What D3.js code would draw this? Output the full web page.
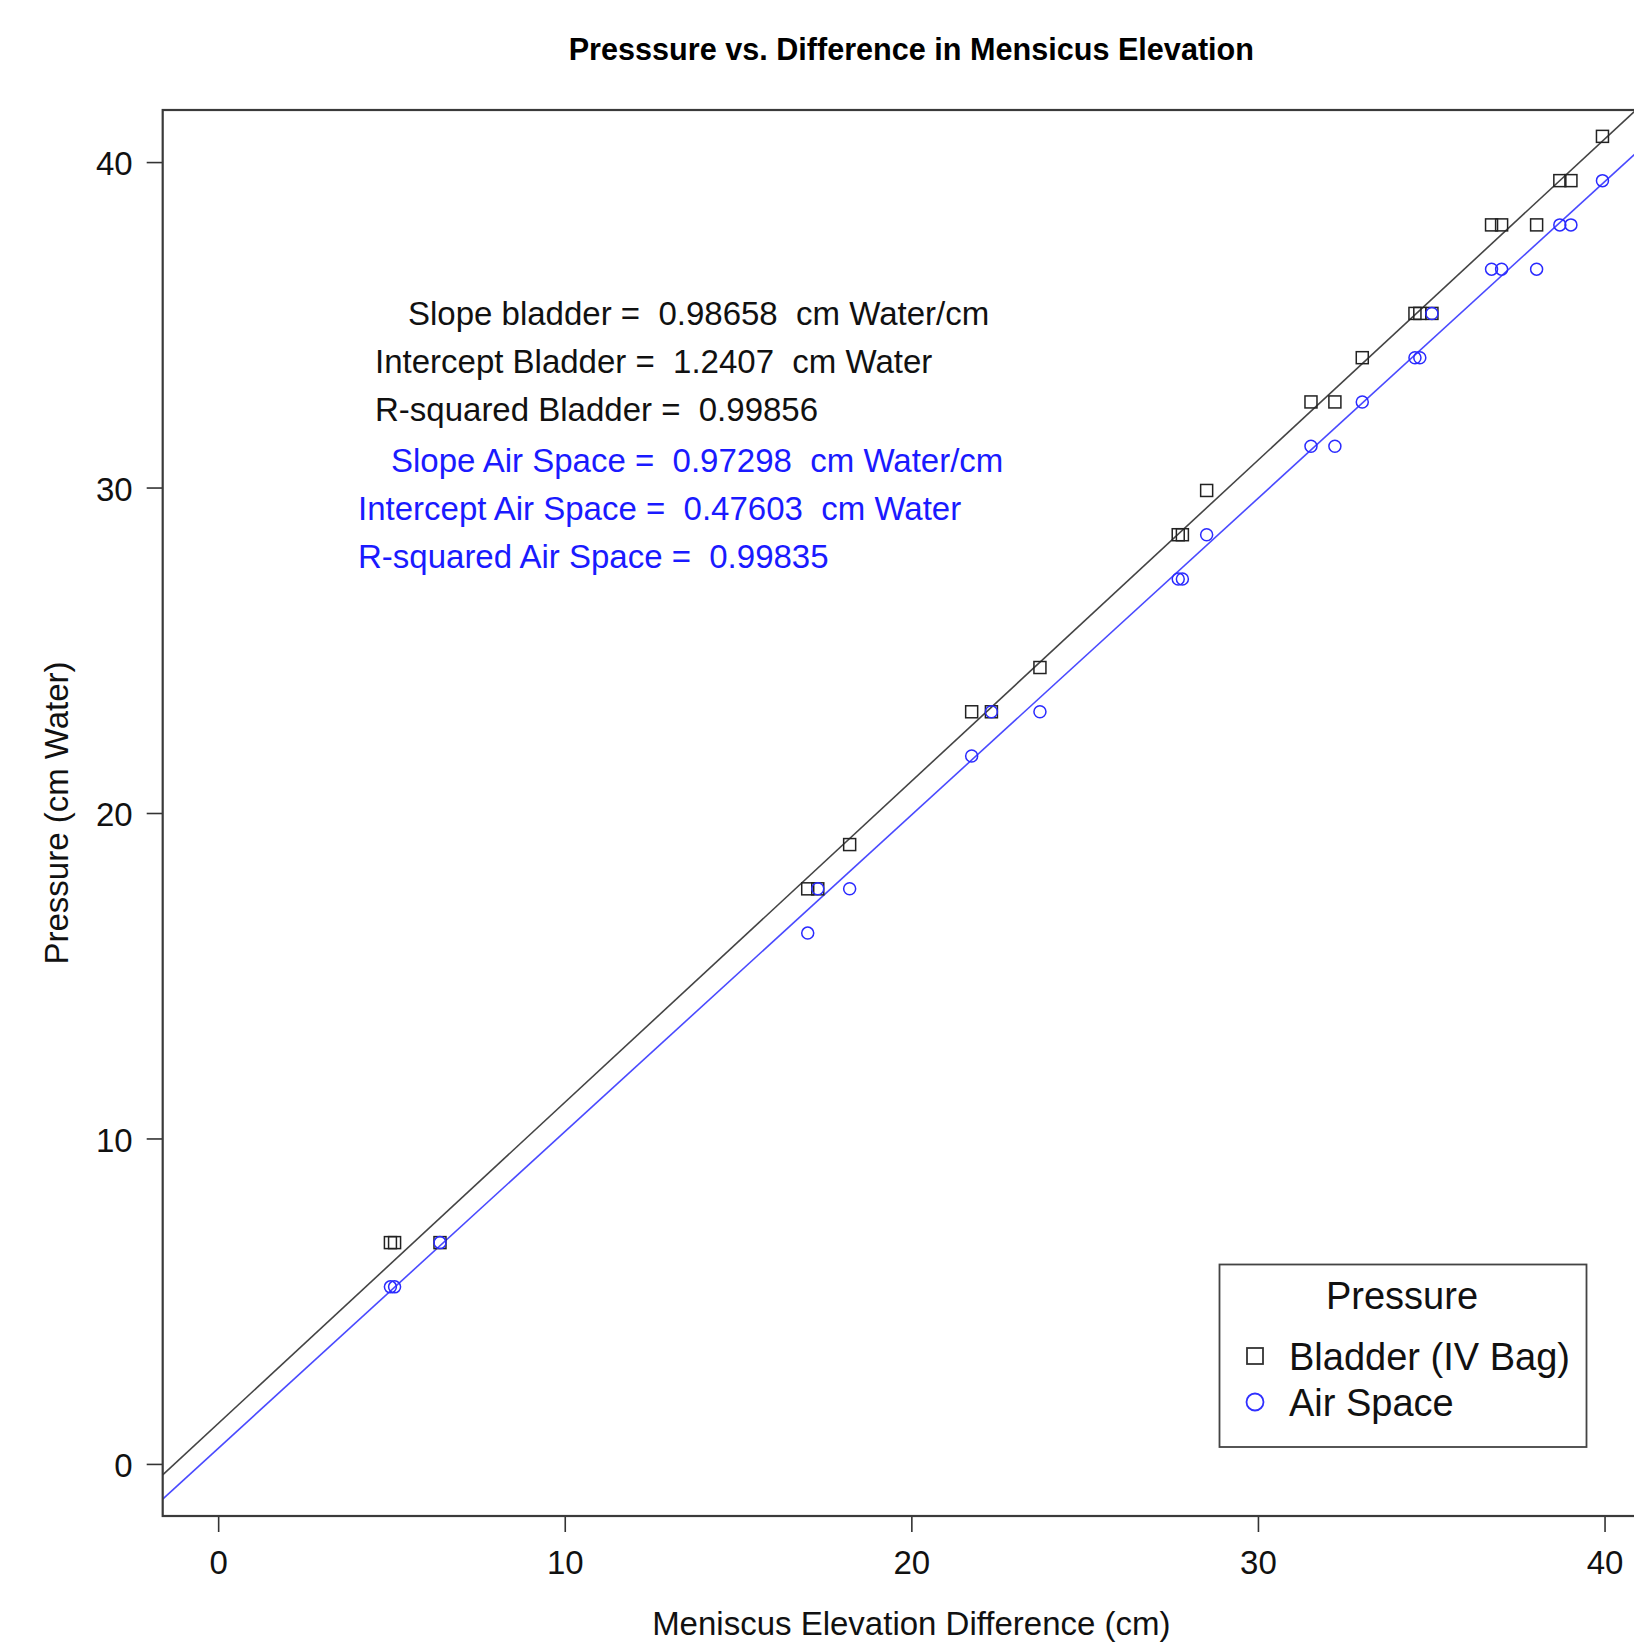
<!DOCTYPE html>
<html>
<head>
<meta charset="utf-8">
<script src="https://cdn.jsdelivr.net/npm/d3@7"></script>
<style>
  html, body { margin: 0; padding: 0; background: #fff; }
  svg { display: block; font-family: "Liberation Sans", Arial, Helvetica, sans-serif; }
  text { white-space: pre; }
</style>
</head>
<body>
<svg id="chart" width="1634" height="1642"></svg>
<script>
// ---- data ----
const xMeniscus = [4.97, 5.09, 6.40, 17.01, 17.30, 18.22, 21.74, 22.31, 23.71, 27.70, 27.82, 28.52,
                   31.53, 32.22, 33.01, 34.53, 34.67, 35.02, 36.74, 37.03, 38.04, 38.71, 39.03, 39.94];
const pBladder  = [6.80, 6.80, 6.80, 17.67, 17.67, 19.03, 23.11, 23.11, 24.47, 28.55, 28.55, 29.91,
                   32.63, 32.63, 33.99, 35.35, 35.35, 35.35, 38.07, 38.07, 38.07, 39.43, 39.43, 40.79];
const pAir      = [5.44, 5.44, 6.80, 16.31, 17.67, 17.67, 21.75, 23.11, 23.11, 27.19, 27.19, 28.55,
                   31.27, 31.27, 32.63, 33.99, 33.99, 35.35, 36.71, 36.71, 36.71, 38.07, 38.07, 39.43];
const fitBladder = { slope: 0.98658, intercept: 1.2407, r2: 0.99856 };
const fitAir     = { slope: 0.97298, intercept: 0.47603, r2: 0.99835 };
const xTicks = [0, 10, 20, 30, 40];
const yTicks = [0, 10, 20, 30, 40];
const annotLines = [
  { text: "Slope bladder =  0.98658  cm Water/cm", color: "black", x: 408, y: 325 },
  { text: "Intercept Bladder =  1.2407  cm Water", color: "black", x: 375, y: 373 },
  { text: "R-squared Bladder =  0.99856", color: "black", x: 375, y: 421 },
  { text: "Slope Air Space =  0.97298  cm Water/cm", color: "blue", x: 391, y: 472 },
  { text: "Intercept Air Space =  0.47603  cm Water", color: "blue", x: 358, y: 520 },
  { text: "R-squared Air Space =  0.99835", color: "blue", x: 358, y: 568 }
];

const svg = d3.select("#chart");
const L = 162.7, R = 1660, T = 110, B = 1516;
const x = d3.scaleLinear().domain([-1.6, 41.6]).range([L, R]);
const y = d3.scaleLinear().domain([-1.6, 41.6]).range([B, T]);

svg.append("defs").append("clipPath").attr("id", "plotclip")
  .append("rect").attr("x", L).attr("y", T).attr("width", R - L).attr("height", B - T);

// title
svg.append("text").attr("x", x(20)).attr("y", 60).attr("text-anchor", "middle")
  .attr("font-size", 30.6).attr("font-weight", "bold").attr("fill", "#000")
  .text("Presssure vs. Difference in Mensicus Elevation");

// axes
const xAxis = svg.append("g").attr("transform", `translate(0,${B})`)
  .call(d3.axisBottom(x).tickValues(xTicks).tickSize(16).tickPadding(10).tickFormat(d3.format("d")));
const yAxis = svg.append("g").attr("transform", `translate(${L},0)`)
  .call(d3.axisLeft(y).tickValues(yTicks).tickSize(16).tickPadding(14).tickFormat(d3.format("d")));
[xAxis, yAxis].forEach(g => {
  g.select(".domain").remove();
  g.selectAll("line").attr("stroke", "#333").attr("stroke-width", 1.6);
  g.selectAll("text").attr("font-size", 33).attr("fill", "#111")
    .attr("font-family", "'Liberation Sans', Arial, sans-serif");
});
xAxis.selectAll("text").attr("dy", null).attr("y", 58);
yAxis.selectAll("text").attr("dy", "0.38em");

// axis labels
svg.append("text").attr("x", x(20)).attr("y", 1635).attr("text-anchor", "middle")
  .attr("font-size", 33).attr("fill", "#111").text("Meniscus Elevation Difference (cm)");
svg.append("text").attr("transform", `translate(68,${y(20)}) rotate(-90)`).attr("text-anchor", "middle")
  .attr("font-size", 33).attr("fill", "#111").text("Pressure (cm Water)");

// fit lines
const plot = svg.append("g").attr("clip-path", "url(#plotclip)");
const xs = [-1.6, 41.6];
plot.append("line")
  .attr("x1", x(xs[0])).attr("y1", y(fitBladder.intercept + fitBladder.slope * xs[0]))
  .attr("x2", x(xs[1])).attr("y2", y(fitBladder.intercept + fitBladder.slope * xs[1]))
  .attr("stroke", "#444").attr("stroke-width", 1.6);
plot.append("line")
  .attr("x1", x(xs[0])).attr("y1", y(fitAir.intercept + fitAir.slope * xs[0]))
  .attr("x2", x(xs[1])).attr("y2", y(fitAir.intercept + fitAir.slope * xs[1]))
  .attr("stroke", "#4a4aff").attr("stroke-width", 1.6);

// points
const sq = 12;
plot.selectAll("rect.bl").data(xMeniscus).enter().append("rect").attr("class", "bl")
  .attr("x", (d) => x(d) - sq / 2).attr("y", (d, i) => y(pBladder[i]) - sq / 2)
  .attr("width", sq).attr("height", sq)
  .attr("fill", "none").attr("stroke", "#222").attr("stroke-width", 1.5);
plot.selectAll("circle.air").data(xMeniscus).enter().append("circle").attr("class", "air")
  .attr("cx", (d) => x(d)).attr("cy", (d, i) => y(pAir[i])).attr("r", 6)
  .attr("fill", "none").attr("stroke", "#2a2aff").attr("stroke-width", 1.5);

// annotations
svg.selectAll("text.annot").data(annotLines).enter().append("text").attr("class", "annot")
  .attr("xml:space", "preserve")
  .attr("x", d => d.x).attr("y", d => d.y).attr("font-size", 33)
  .attr("fill", d => d.color === "blue" ? "#1a1aff" : "#111").text(d => d.text);

// box
svg.append("rect").attr("x", L).attr("y", T).attr("width", R - L).attr("height", B - T)
  .attr("fill", "none").attr("stroke", "#3a3a3a").attr("stroke-width", 2.2);

// legend
const lg = svg.append("g");
lg.append("rect").attr("x", 1219.5).attr("y", 1264.5).attr("width", 367).attr("height", 182.5)
  .attr("fill", "#fff").attr("stroke", "#444").attr("stroke-width", 1.8);
lg.append("text").attr("x", 1402).attr("y", 1309).attr("text-anchor", "middle")
  .attr("font-size", 38).attr("fill", "#111").text("Pressure");
lg.append("rect").attr("x", 1255 - 8).attr("y", 1356 - 8).attr("width", 16).attr("height", 16)
  .attr("fill", "none").attr("stroke", "#333").attr("stroke-width", 1.8);
lg.append("text").attr("x", 1289).attr("y", 1370).attr("font-size", 38).attr("fill", "#111")
  .text("Bladder (IV Bag)");
lg.append("circle").attr("cx", 1255).attr("cy", 1402).attr("r", 8.5)
  .attr("fill", "none").attr("stroke", "#3030ff").attr("stroke-width", 1.8);
lg.append("text").attr("x", 1289).attr("y", 1416).attr("font-size", 38).attr("fill", "#111")
  .text("Air Space");
</script>
</body>
</html>
